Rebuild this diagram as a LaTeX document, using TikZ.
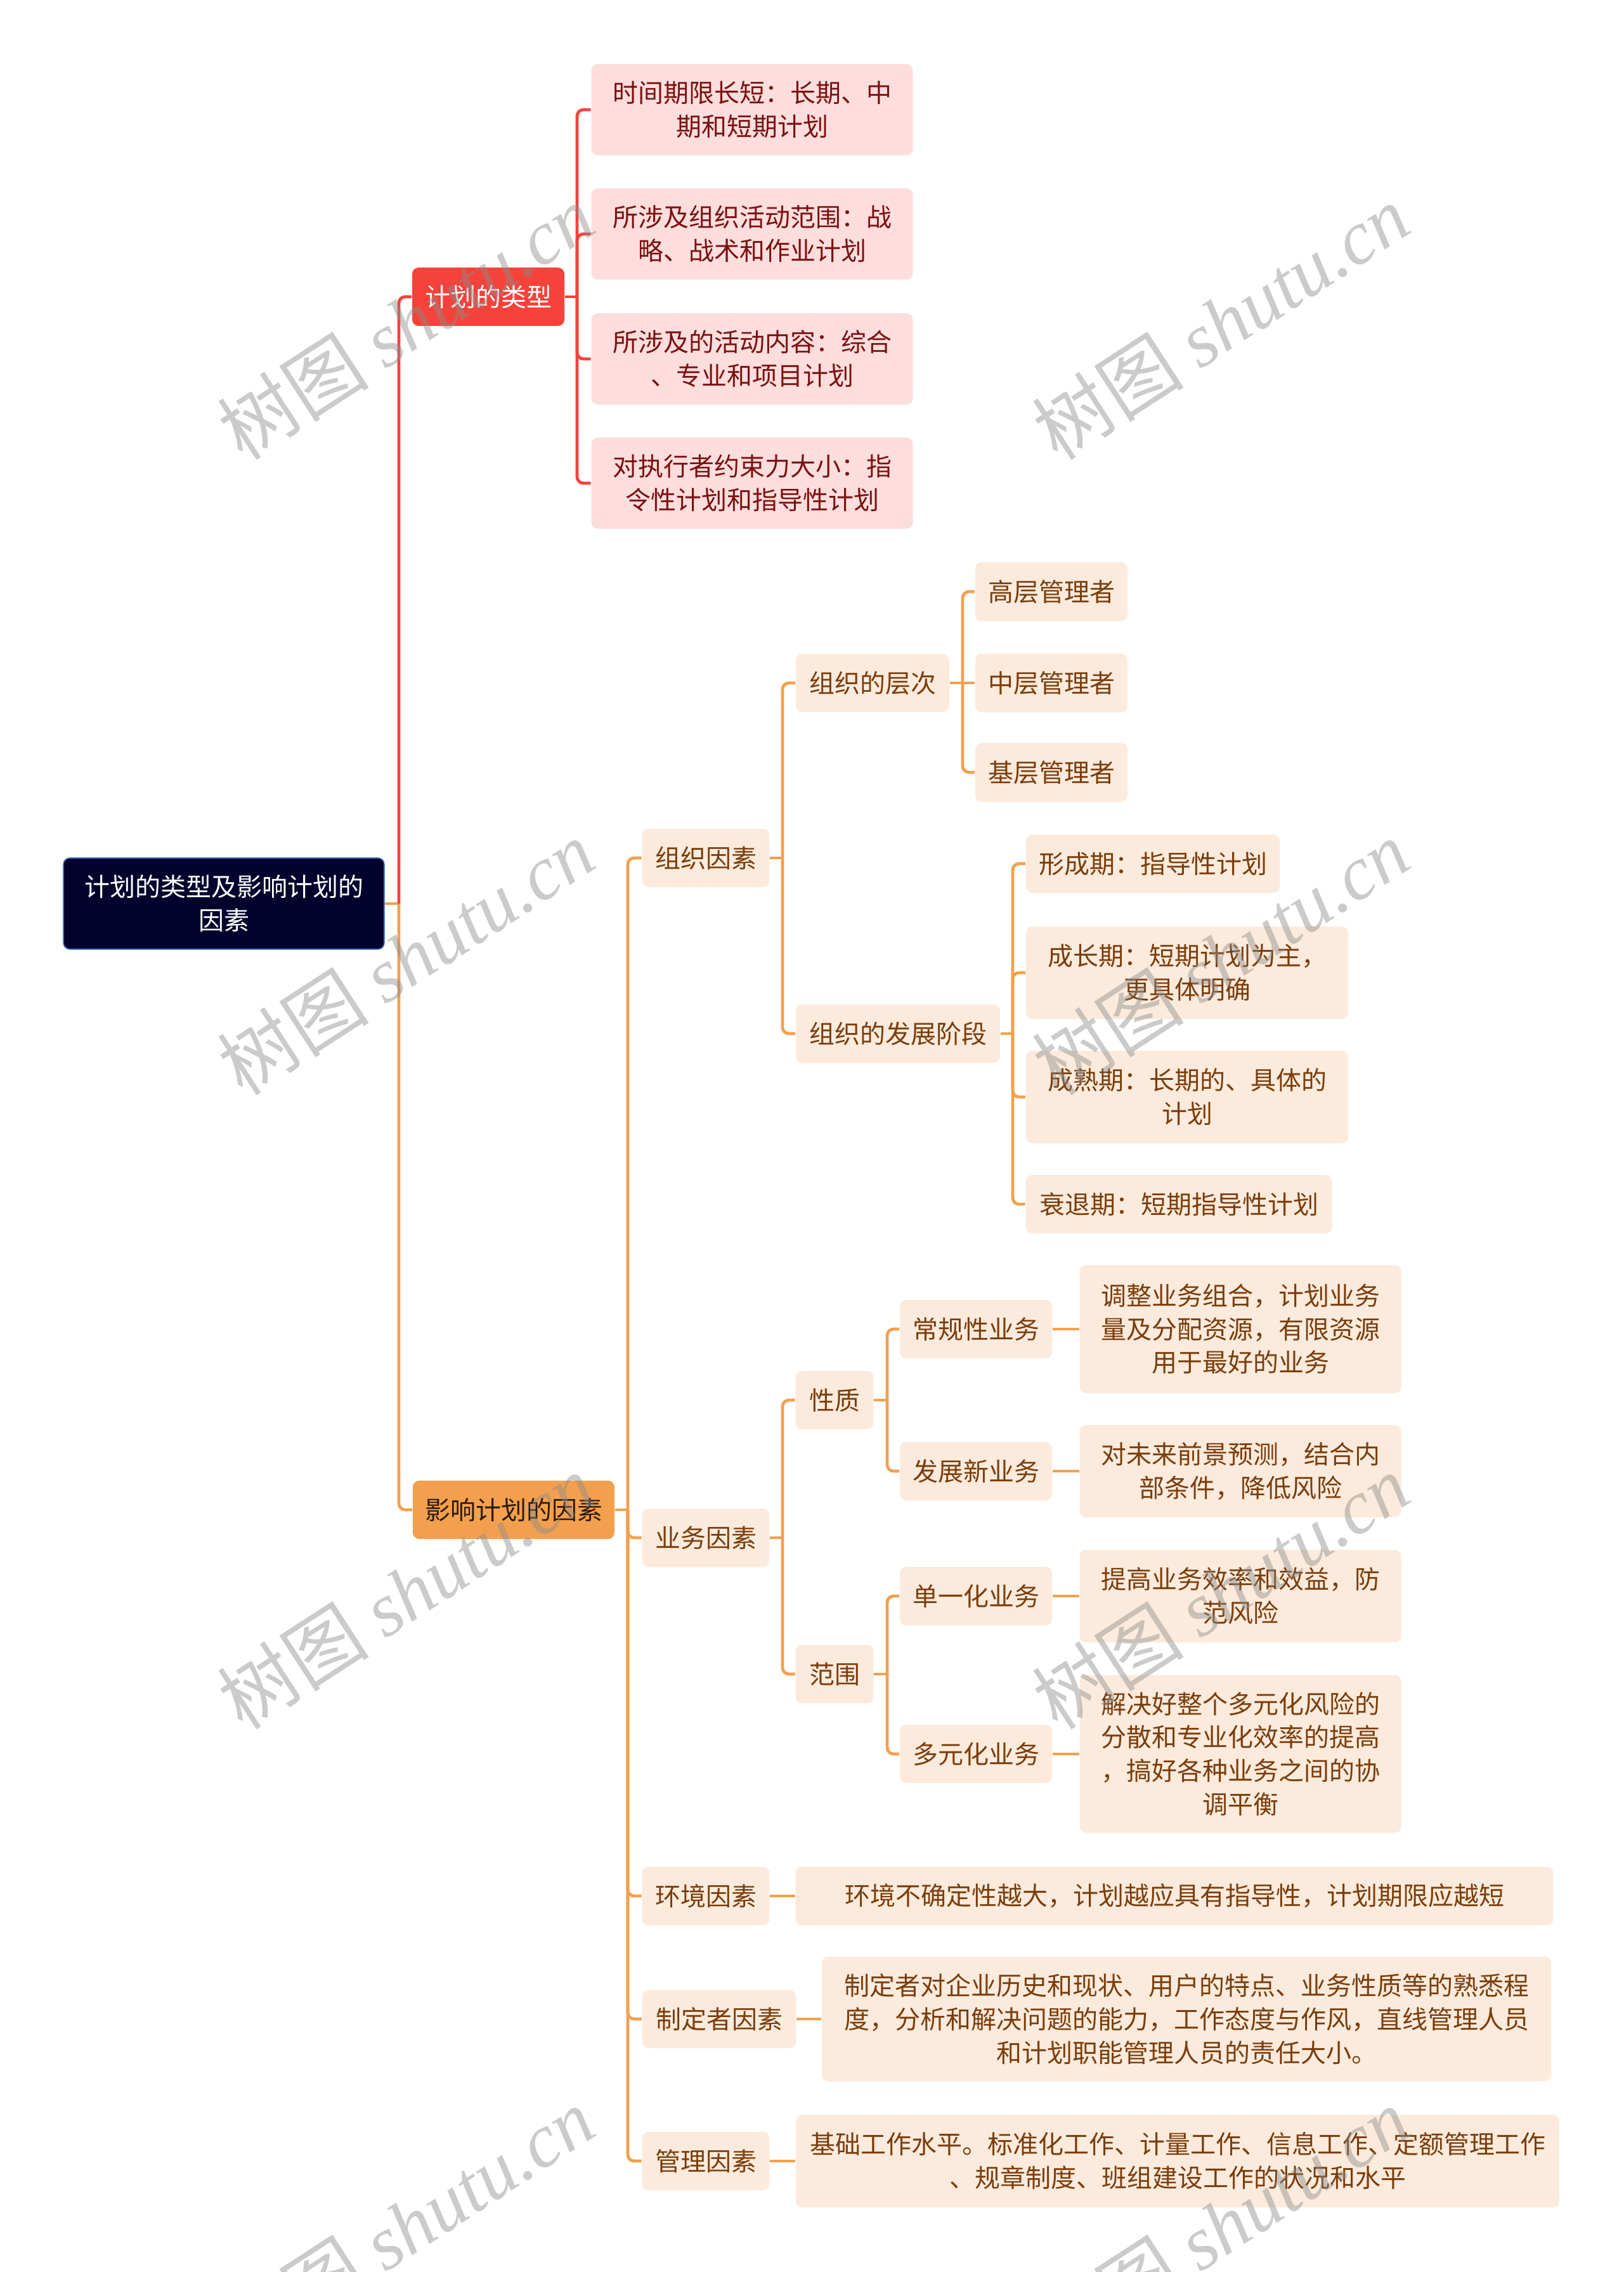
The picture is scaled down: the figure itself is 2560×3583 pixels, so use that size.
\documentclass[tikz,border=0pt]{standalone}
\usepackage{fontspec}
\setmainfont{Noto Sans CJK SC}
\newfontfamily\wmlatin{Liberation Serif}
\usetikzlibrary{calc}
\definecolor{rootc}{HTML}{03022C}
\definecolor{rootb}{HTML}{4A7ACC}
\definecolor{redc}{HTML}{F5423B}
\definecolor{pinkf}{HTML}{FDDEDD}
\definecolor{pinkt}{HTML}{7B1010}
\definecolor{orc}{HTML}{F3A04E}
\definecolor{peachf}{HTML}{FCEBDC}
\definecolor{peacht}{HTML}{7A3D0C}
\definecolor{darkt}{HTML}{2E1A08}
\tikzset{
  sz/.style 2 args={minimum width={0.25pt*#1}, minimum height={0.25pt*#2}},
  base/.style={rounded corners=2.5pt, inner sep=0pt, align=center,
    font=\fontsize{10pt}{13.2pt}\selectfont},
  rootbox/.style={base, fill=rootc, draw=rootb, line width=0.4pt, text=white},
  redbox/.style={base, fill=redc, text=white},
  orbox/.style={base, fill=orc, text=darkt},
  pinkbox/.style={base, fill=pinkf, text=pinkt},
  peachbox/.style={base, fill=peachf, text=peacht},
  rl/.style={draw=redc, line width=1.2pt, rounded corners=2.5pt},
  ol/.style={draw=orc, line width=1.2pt, rounded corners=2.5pt},
  wm/.style={text=black!45, opacity=0.45, rotate=33, inner sep=0pt,
    font=\fontsize{30pt}{34pt}\selectfont}
}
\begin{document}
\begin{tikzpicture}[x=0.25pt, y=-0.25pt]
\useasboundingbox (0,0) rectangle (2560,3583);
% nodes
\node[rootbox, sz={506}{144}] (root) at (353,1425) {计划的类型及影响计划的\\因素};
\node[redbox, sz={240}{92}] (A) at (770,468) {计划的类型};
\node[orbox, sz={318}{92}] (B) at (810,2381) {影响计划的因素};
\node[pinkbox, sz={507}{144}] (A1) at (1186,173) {时间期限长短：长期、中\\期和短期计划};
\node[pinkbox, sz={507}{144}] (A2) at (1186,369) {所涉及组织活动范围：战\\略、战术和作业计划};
\node[pinkbox, sz={507}{144}] (A3) at (1186,566) {所涉及的活动内容：综合\\、专业和项目计划};
\node[pinkbox, sz={507}{144}] (A4) at (1186,762) {对执行者约束力大小：指\\令性计划和指导性计划};
\node[peachbox, sz={201}{92}] (B1) at (1113,1353) {组织因素};
\node[peachbox, sz={201}{92}] (B2) at (1113,2425) {业务因素};
\node[peachbox, sz={201}{92}] (B3) at (1113,2990) {环境因素};
\node[peachbox, sz={242}{92}] (B4) at (1134,3184) {制定者因素};
\node[peachbox, sz={201}{92}] (B5) at (1113,3408) {管理因素};
\node[peachbox, sz={242}{92}] (B11) at (1376,1077) {组织的层次};
\node[peachbox, sz={322}{92}] (B12) at (1416,1630) {组织的发展阶段};
\node[peachbox, sz={240}{93}] (B111) at (1658,933) {高层管理者};
\node[peachbox, sz={240}{93}] (B112) at (1658,1077) {中层管理者};
\node[peachbox, sz={240}{93}] (B113) at (1658,1218) {基层管理者};
\node[peachbox, sz={400}{92}] (B121) at (1818,1362) {形成期：指导性计划};
\node[peachbox, sz={508}{146}] (B122) at (1872,1534) {成长期：短期计划为主，\\更具体明确};
\node[peachbox, sz={508}{146}] (B123) at (1872,1730) {成熟期：长期的、具体的\\计划};
\node[peachbox, sz={483}{92}] (B124) at (1859,1899) {衰退期：短期指导性计划};
\node[peachbox, sz={123}{92}] (B21) at (1316,2208) {性质};
\node[peachbox, sz={123}{92}] (B22) at (1316,2640) {范围};
\node[peachbox, sz={240}{92}] (B211) at (1539,2096) {常规性业务};
\node[peachbox, sz={240}{92}] (B212) at (1539,2320) {发展新业务};
\node[peachbox, sz={240}{92}] (B221) at (1539,2517) {单一化业务};
\node[peachbox, sz={240}{92}] (B222) at (1539,2766) {多元化业务};
\node[peachbox, sz={507}{202}] (L1) at (1956,2096) {调整业务组合，计划业务\\量及分配资源，有限资源\\用于最好的业务};
\node[peachbox, sz={507}{146}] (L2) at (1956,2320) {对未来前景预测，结合内\\部条件，降低风险};
\node[peachbox, sz={507}{146}] (L3) at (1956,2517) {提高业务效率和效益，防\\范风险};
\node[peachbox, sz={507}{249}] (L4) at (1956,2766) {解决好整个多元化风险的\\分散和专业化效率的提高\\，搞好各种业务之间的协\\调平衡};
\node[peachbox, sz={1195}{92}] (B31) at (1852,2990) {环境不确定性越大，计划越应具有指导性，计划期限应越短};
\node[peachbox, sz={1150}{197}] (B41) at (1871,3184) {制定者对企业历史和现状、用户的特点、业务性质等的熟悉程\\度，分析和解决问题的能力，工作态度与作风，直线管理人员\\和计划职能管理人员的责任大小。};
\node[peachbox, sz={1204}{146}] (B51) at (1857,3408) {基础工作水平。标准化工作、计量工作、信息工作、定额管理工作\\、规章制度、班组建设工作的状况和水平};
% bus coordinates
\coordinate (b0) at (629,1425);
\coordinate (b1) at (910,468);
\coordinate (bB) at (990,2381);
\coordinate (bB1) at (1234,1353);
\coordinate (bB11) at (1518,1077);
\coordinate (bB12) at (1597,1630);
\coordinate (bB2) at (1234,2425);
\coordinate (bB21) at (1399,2208);
\coordinate (bB22) at (1399,2640);
% connectors
\draw[ol] (root.east) -- (b0);
\draw[rl] (b0) |- (A.west);
\draw[ol] (b0) |- (B.west);
\draw[rl] (A.east) -- (b1);
\foreach \n in {A1,A2,A3,A4} \draw[rl] (b1) |- (\n.west);
\draw[ol] (B.east) -- (bB);
\foreach \n in {B1,B2,B3,B4,B5} \draw[ol] (bB) |- (\n.west);
\draw[ol] (B1.east) -- (bB1);
\foreach \n in {B11,B12} \draw[ol] (bB1) |- (\n.west);
\draw[ol] (B11.east) -- (B112.west);
\foreach \n in {B111,B113} \draw[ol] (bB11) |- (\n.west);
\draw[ol] (B12.east) -- (bB12);
\foreach \n in {B121,B122,B123,B124} \draw[ol] (bB12) |- (\n.west);
\draw[ol] (B2.east) -- (bB2);
\foreach \n in {B21,B22} \draw[ol] (bB2) |- (\n.west);
\draw[ol] (B21.east) -- (bB21);
\foreach \n in {B211,B212} \draw[ol] (bB21) |- (\n.west);
\draw[ol] (B22.east) -- (bB22);
\foreach \n in {B221,B222} \draw[ol] (bB22) |- (\n.west);
\draw[ol] (B211.east) -- (L1.west);
\draw[ol] (B212.east) -- (L2.west);
\draw[ol] (B221.east) -- (L3.west);
\draw[ol] (B222.east) -- (L4.west);
\draw[ol] (B3.east) -- (B31.west);
\draw[ol] (B4.east) -- (B41.west);
\draw[ol] (B5.east) -- (B51.west);
% watermarks
\foreach \wx/\wy [count=\i] in {640/508,1925/508,640/1510,1925/1510,640/2510,1925/2510,640/3509,1925/3509}
  \node[wm] (wm\i) at (\wx,\wy) {树图 {\wmlatin\itshape shutu.cn}};
\end{tikzpicture}
\end{document}
